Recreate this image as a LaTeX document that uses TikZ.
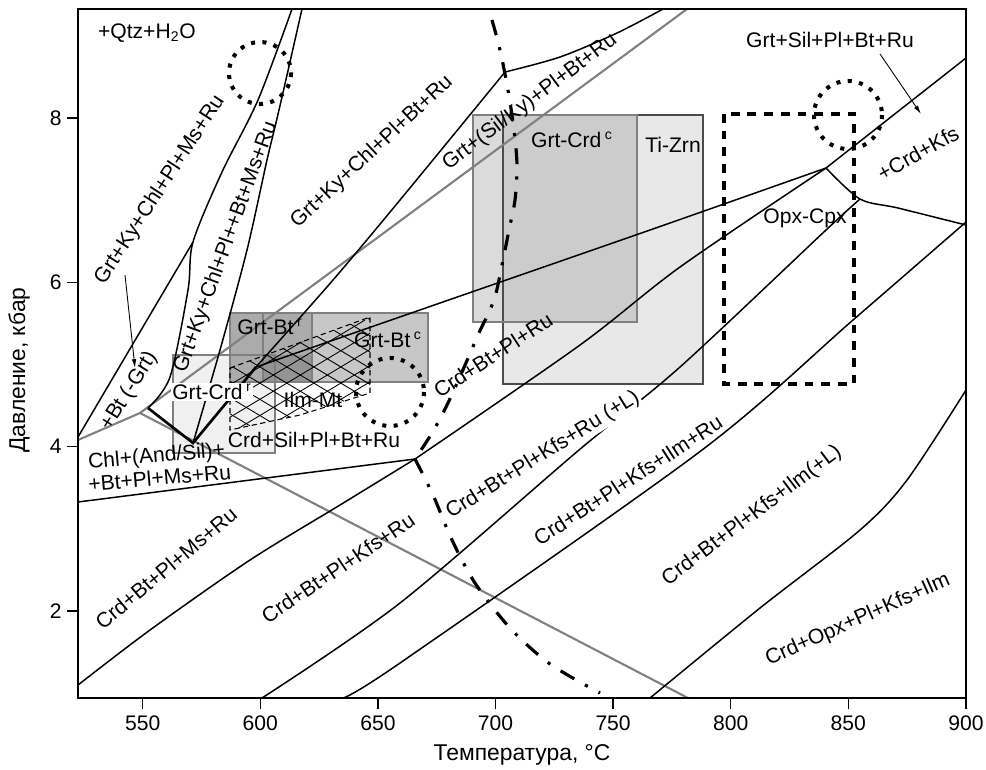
\documentclass[tikz,border=0pt]{standalone}
\usepackage{fontspec}
\setmainfont{Liberation Sans}
\usetikzlibrary{arrows.meta,calc}

\begin{document}
\begin{tikzpicture}[x=0.02cm, y=-0.02cm,
    font=\fontsize{12}{14}\selectfont,
    phase/.style={line width=0.85pt},
    heavy/.style={line width=1.5pt},
    alsil/.style={line width=1.2pt, black!50},
    solidus/.style={line width=1.8pt, dash pattern=on 9pt off 7pt on 1.8pt off 7pt},
    ring/.style={line width=2.3pt, dash pattern=on 2.3pt off 4.2pt},
    zone/.style={line width=2.2pt, dash pattern=on 5pt off 4.5pt},
    box/.style={draw=black!50, line width=0.8pt},
    lbl/.style={inner sep=0pt},
    masked/.style={fill=white, inner sep=0.6pt},
    title/.style={inner sep=0pt, font=\fontsize{13}{15}\selectfont},
    pointer/.style={line width=0.5pt, -{Latex[length=5pt,width=2.6pt]}}]
    \useasboundingbox (0,0) rectangle (986,769);

    % shaded P-T boxes
    \fill[black!14] (473,115) rectangle (637,322);
    \fill[black!9] (637,115) rectangle (703,384);
    \fill[black!9] (503,322) rectangle (637,384);
    \fill[black!20] (503,115) rectangle (637,322);
    \draw[black!70, line width=0.8pt] (503,115) rectangle (703,384);
    \draw[box] (473,115) rectangle (637,322);
    \fill[black!6] (173,355) rectangle (275,453);
    \fill[black!22] (312,313) rectangle (428,382);
    \fill[black!33] (230,313) rectangle (312,382);
    \fill[black!42] (263,355) rectangle (312,382);
    \draw[box] (173,355) rectangle (275,453);
    \draw[box] (230,313) rectangle (428,382);
    \draw[box] (263,313) -- (263,382) (312,313) -- (312,382);

    % Ilm-Mt hatching
    \begin{scope}
        \clip (230,368) -- (370,317) -- (370,393) -- (300,415) -- (230,430) -- cycle;
        \foreach \s in {0,...,14} {
            \draw[line width=0.5pt] ({-70+27*\s},250) -- ++(300,180);
            \draw[line width=0.5pt] ({-70+27*\s},500) -- ++(300,-180);
        }
    \end{scope}
    \draw[line width=0.6pt, dash pattern=on 3pt off 2pt] (230,368) -- (370,317) -- (370,393) -- (300,415) -- (230,430) -- cycle;

    % junctions
    \coordinate (tpg) at (140,413);
    \coordinate (jl) at (148,408);
    \coordinate (j0) at (193,242);
    \coordinate (jv) at (193,443);
    \coordinate (jr) at (256,367);
    \coordinate (jy) at (415,459);
    \coordinate (jk) at (505,72);
    \coordinate (tpr) at (826,168);
    \coordinate (jo) at (860,199);

    % Al2SiO5 lines
    \draw[alsil] (78,440) -- (tpg) -- (687,9);
    \draw[alsil] (tpg) -- (688,698);

    % reaction lines
    \draw[phase] (78,437) -- (j0);
    \draw[phase] plot[smooth] coordinates {(jl) (170,377) (188,290) (j0) (222,172) (258,100) (292,9)};
    \draw[phase] plot[smooth] coordinates {(302,9) (279,110) (267,160) (247,250) (220,350) (jv)};
    \draw[heavy] (jl) -- (jv) -- (jr);
    \draw[phase] plot[smooth] coordinates {(jr) (333,280) (400,200) (jk)};
    \draw[phase] plot[smooth] coordinates {(jk) (560,57) (617,33) (663,9)};
    \draw[phase] plot[smooth] coordinates {(jr) (440,303) (650,230) (tpr)};
    \draw[phase] (tpr) -- (966,58);
    \draw[phase] plot[smooth] coordinates {(tpr) (jo) (898,208) (966,225)};
    \draw[phase] plot[smooth] coordinates {(jy) (580,345) (680,267) (tpr)};
    \draw[phase] plot[smooth] coordinates {(262,698) (400,603) (579,450) (680,367) (826,230) (jo)};
    \draw[phase] plot[smooth] coordinates {(343,698) (400,663) (702,450) (853,320) (966,222)};
    \draw[phase] plot[smooth] coordinates {(650,698) (760,608) (860,530) (907,480) (966,390)};
    \draw[phase] (78,502) -- (jy);
    \draw[phase] plot[smooth] coordinates {(78,685) (150,630) (250,560) (340,505) (jy)};

    % dash-dot line
    \draw[solidus] plot[smooth] coordinates {(492,20) (500,50) (508,90) (514,130) (517,165) (515,200) (509,230) (502,265) (494,300) (478,335) (462,372) (447,405) (432,433) (jy)};
    \draw[solidus] plot[smooth] coordinates {(jy) (433,495) (452,540) (475,583) (510,628) (550,664) (600,693)};

    % dotted circles and Opx-Cpx field
    \draw[ring] (260,73) circle[radius=31];
    \draw[ring] (390,392) circle[radius=34];
    \draw[ring] (848,115) circle[radius=34];
    \draw[zone] (724,114) rectangle (854,384);

    % frame and ticks
    \draw[line width=0.9pt] (78,9) rectangle (966,698);
    \foreach \t in {550,600,...,900} {
        \pgfmathsetmacro{\tx}{142.7+(\t-550)*2.352}
        \draw[line width=0.8pt] (\tx,698) -- (\tx,709);
        \node[lbl] (t\t) at (\tx,723) {\t};
    }
    \foreach \p in {2,4,6,8} {
        \pgfmathsetmacro{\py}{611-(\p-2)*82.2}
        \draw[line width=0.8pt] (67,\py) -- (78,\py);
        \node[lbl, anchor=east] (p\p) at (62,\py) {\p};
    }
    \node[title] (xtitle) at (522,755) {Температура, °C};
    \node[title, rotate=90] (ytitle) at (19,370) {Давление, кбар};

    % field labels
    \node[lbl] (qtz) at (147,33) {+Qtz+H\textsubscript{2}O};
    \node[lbl, rotate=57] (fms) at (160,190) {Grt+Ky+Chl+Pl+Ms+Ru};
    \node[lbl, rotate=70] (fbms) at (226,247) {Grt+Ky+Chl+Pl++Bt+Ms+Ru};
    \node[lbl, rotate=58] (fbt) at (129,391) {+Bt (-Grt)};
    \node[lbl, rotate=43] (fbru) at (372,152) {Grt+Ky+Chl+Pl+Bt+Ru};
    \node[lbl, rotate=37] (fsil) at (530,102) {Grt+(Sil/Ky)+Pl+Bt+Ru};
    \node[lbl] (grtsil) at (830,40) {Grt+Sil+Pl+Bt+Ru};
    \node[lbl, rotate=29] (crdkfs) at (918,153) {+Crd+Kfs};
    \node[lbl, rotate=33] (fcrd) at (493,355) {Crd+Bt+Pl+Ru};
    \node[lbl, anchor=west, rotate=5] (chl1) at (88,463) {Chl+(And/Sil)+};
    \node[lbl, anchor=west, rotate=5] (chl2) at (88,484) {+Bt+Pl+Ms+Ru};
    \node[lbl, rotate=40] (fms2) at (166,568) {Crd+Bt+Pl+Ms+Ru};
    \node[lbl, rotate=34] (fkfs) at (338,568) {Crd+Bt+Pl+Kfs+Ru};
    \node[masked, rotate=32] (fkfsl) at (543,455) {Crd+Bt+Pl+Kfs+Ru (+L)};
    \node[lbl, rotate=33] (film) at (628,480) {Crd+Bt+Pl+Kfs+Ilm+Ru};
    \node[lbl, rotate=37] (filml) at (752,516) {Crd+Bt+Pl+Kfs+Ilm(+L)};
    \node[lbl, rotate=24] (fopx) at (858,620) {Crd+Opx+Pl+Kfs+Ilm};

    % thermometer labels
    \node[lbl] (grtcrdc) at (572,140) {Grt-Crd\,\textsuperscript{c}};
    \node[lbl] (tizrn) at (673,145) {Ti-Zrn};
    \node[lbl] (opxcpx) at (805,218) {Opx-Cpx};
    \node[lbl] (grtbtr) at (270,327) {Grt-Bt\,\textsuperscript{r}};
    \node[lbl] (grtbtc) at (388,340) {Grt-Bt\,\textsuperscript{c}};
    \node[masked] (grtcrdr) at (212,392) {Grt-Crd\,\textsuperscript{r}};
    \node[lbl] (ilmmt) at (313,400) {Ilm-Mt};
    \node[lbl] (crdsil) at (314,440) {Crd+Sil+Pl+Bt+Ru};

    % pointers
    \coordinate (btend) at (135,368);
    \coordinate (crdend) at (921,114);
    \draw[pointer] (125,275) -- (btend);
    \draw[pointer] (880,54) -- (crdend);
\end{tikzpicture}
\end{document}
